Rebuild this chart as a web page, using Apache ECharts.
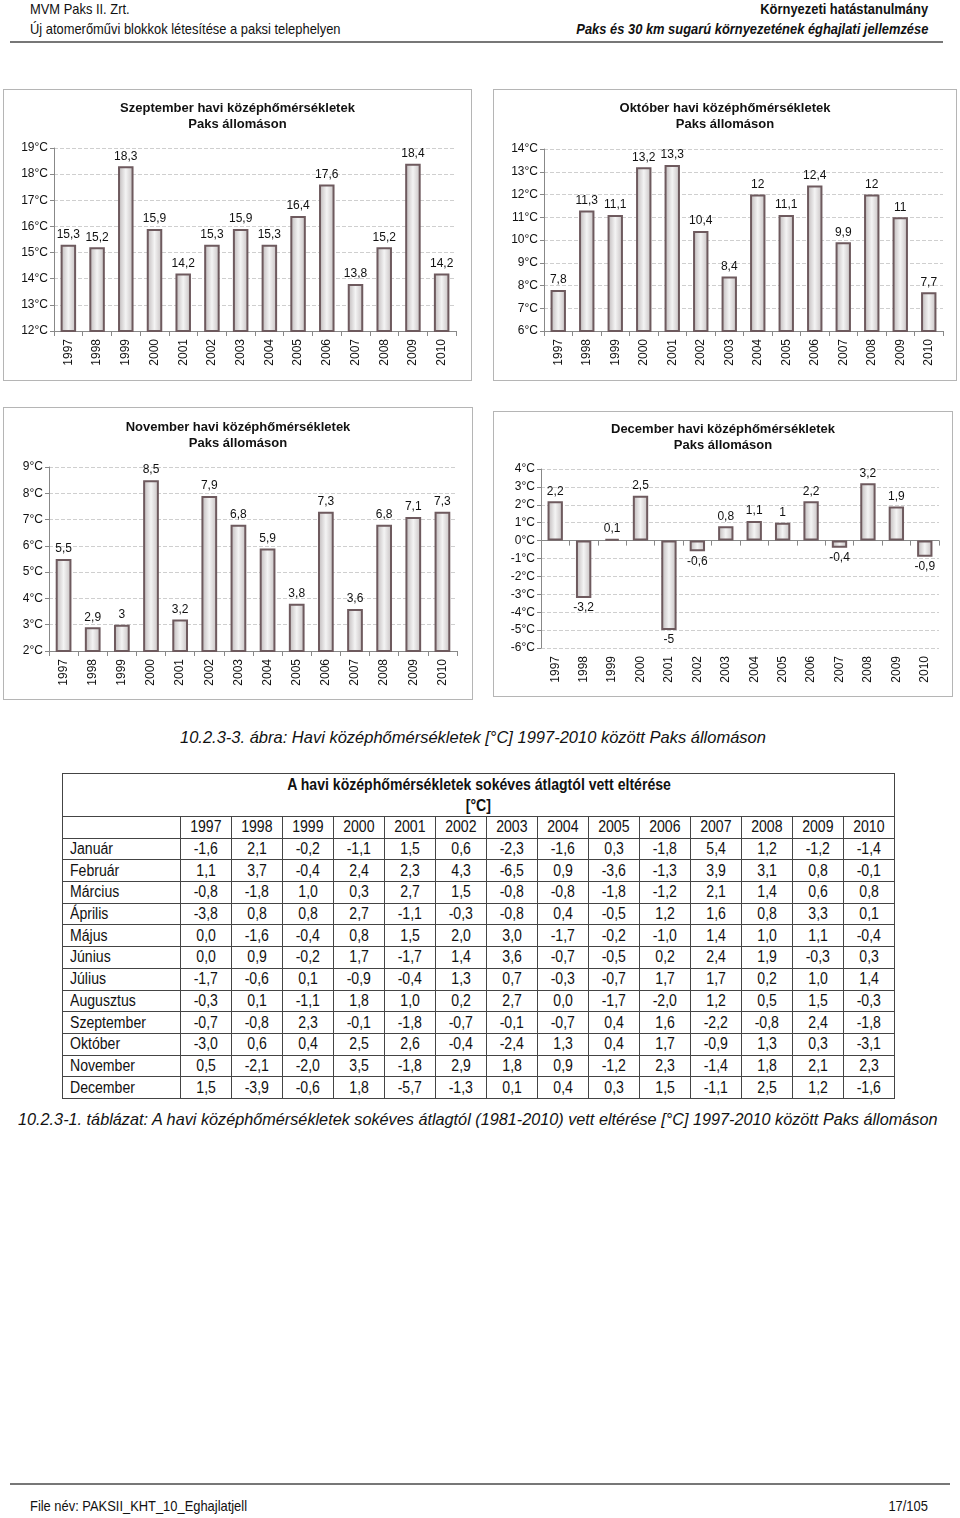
<!DOCTYPE html>
<html>
<head>
<meta charset="utf-8">
<script src="https://cdn.jsdelivr.net/npm/echarts@6/dist/echarts.min.js"></script>
<style>
  html, body { margin:0; padding:0; background:#fff; }
  body { width:960px; height:1518px; position:relative; overflow:hidden;
         font-family:"Liberation Sans",Arial,sans-serif; color:#111; }
  .abs { position:absolute; white-space:nowrap; }
  .nl { transform:scaleX(0.86); transform-origin:left center; }
  .nr { transform:scaleX(0.86); transform-origin:right center; }
  .chart { position:absolute; border:1px solid #b5b5b5; box-sizing:border-box; }
  table.dev { position:absolute; left:62px; top:773px; border-collapse:collapse; font-size:16px; table-layout:fixed; width:832px; }
  table.dev td { border:1.5px solid #444; text-align:center; padding:0; height:20.7px; line-height:20px; overflow:hidden; white-space:nowrap; }
  table.dev td span { display:inline-block; transform:scaleX(0.88); }
  table.dev td.m { text-align:left; padding-left:7px; }
  table.dev td.m span { transform-origin:left center; }
</style>
</head>
<body>
<div class="abs nl" style="left:30px;top:0px;font-size:15px;">MVM Paks II. Zrt.</div>
<div class="abs nl" style="left:30px;top:20px;font-size:15px;">Új atomerőművi blokkok létesítése a paksi telephelyen</div>
<div class="abs nr" style="right:32px;top:0px;font-size:15px;font-weight:bold;">Környezeti hatástanulmány</div>
<div class="abs nr" style="right:32px;top:20px;font-size:15px;font-weight:bold;font-style:italic;">Paks és 30 km sugarú környezetének éghajlati jellemzése</div>
<div class="abs" style="left:10px;top:41px;width:933px;height:2px;background:#777;"></div>

<div id="c1" class="chart" style="left:3px;top:89px;width:469px;height:292px;"></div>
<div id="c2" class="chart" style="left:493px;top:89px;width:464px;height:292px;"></div>
<div id="c3" class="chart" style="left:3px;top:407px;width:470px;height:293px;"></div>
<div id="c4" class="chart" style="left:493px;top:411px;width:460px;height:286px;"></div>

<div class="abs" style="left:180px;top:728px;font-size:17px;font-style:italic;transform:scaleX(0.97);transform-origin:left center;">10.2.3-3. ábra: Havi középhőmérsékletek [°C] 1997-2010 között Paks állomáson</div>

<table class="dev" id="devTable"></table>

<div class="abs" style="left:18px;top:1110px;font-size:17px;font-style:italic;transform:scaleX(0.955);transform-origin:left center;">10.2.3-1. táblázat: A havi középhőmérsékletek sokéves átlagtól (1981-2010) vett eltérése [°C] 1997-2010 között Paks állomáson</div>

<div class="abs" style="left:10px;top:1483px;width:940px;height:2px;background:#777;"></div>
<div class="abs nl" style="left:30px;top:1497px;font-size:15px;">File név: PAKSII_KHT_10_Eghajlatjell</div>
<div class="abs nr" style="right:32px;top:1497px;font-size:15px;">17/105</div>

<script>
// ---- Chart data ----
const years = ['1997','1998','1999','2000','2001','2002','2003','2004','2005','2006','2007','2008','2009','2010'];
const septemberTemps = [15.3, 15.2, 18.3, 15.9, 14.2, 15.3, 15.9, 15.3, 16.4, 17.6, 13.8, 15.2, 18.4, 14.2];
const oktoberTemps   = [7.8, 11.3, 11.1, 13.2, 13.3, 10.4, 8.4, 12, 11.1, 12.4, 9.9, 12, 11, 7.7];
const novemberTemps  = [5.5, 2.9, 3, 8.5, 3.2, 7.9, 6.8, 5.9, 3.8, 7.3, 3.6, 6.8, 7.1, 7.3];
const decemberTemps  = [2.2, -3.2, 0.1, 2.5, -5, -0.6, 0.8, 1.1, 1, 2.2, -0.4, 3.2, 1.9, -0.9];
const chartTitles = [
  'Szeptember havi középhőmérsékletek\nPaks állomáson',
  'Október havi középhőmérsékletek\nPaks állomáson',
  'November havi középhőmérsékletek\nPaks állomáson',
  'December havi középhőmérsékletek\nPaks állomáson'
];
// ---- Table data ----
const tableTitle = 'A havi középhőmérsékletek sokéves átlagtól vett eltérése';
const tableUnit = '[°C]';
const monthNames = ['Január','Február','Március','Április','Május','Június','Július','Augusztus','Szeptember','Október','November','December'];
const devJanuar     = ['-1,6','2,1','-0,2','-1,1','1,5','0,6','-2,3','-1,6','0,3','-1,8','5,4','1,2','-1,2','-1,4'];
const devFebruar    = ['1,1','3,7','-0,4','2,4','2,3','4,3','-6,5','0,9','-3,6','-1,3','3,9','3,1','0,8','-0,1'];
const devMarcius    = ['-0,8','-1,8','1,0','0,3','2,7','1,5','-0,8','-0,8','-1,8','-1,2','2,1','1,4','0,6','0,8'];
const devAprilis    = ['-3,8','0,8','0,8','2,7','-1,1','-0,3','-0,8','0,4','-0,5','1,2','1,6','0,8','3,3','0,1'];
const devMajus      = ['0,0','-1,6','-0,4','0,8','1,5','2,0','3,0','-1,7','-0,2','-1,0','1,4','1,0','1,1','-0,4'];
const devJunius     = ['0,0','0,9','-0,2','1,7','-1,7','1,4','3,6','-0,7','-0,5','0,2','2,4','1,9','-0,3','0,3'];
const devJulius     = ['-1,7','-0,6','0,1','-0,9','-0,4','1,3','0,7','-0,3','-0,7','1,7','1,7','0,2','1,0','1,4'];
const devAugusztus  = ['-0,3','0,1','-1,1','1,8','1,0','0,2','2,7','0,0','-1,7','-2,0','1,2','0,5','1,5','-0,3'];
const devSzeptember = ['-0,7','-0,8','2,3','-0,1','-1,8','-0,7','-0,1','-0,7','0,4','1,6','-2,2','-0,8','2,4','-1,8'];
const devOktober    = ['-3,0','0,6','0,4','2,5','2,6','-0,4','-2,4','1,3','0,4','1,7','-0,9','1,3','0,3','-3,1'];
const devNovember   = ['0,5','-2,1','-2,0','3,5','-1,8','2,9','1,8','0,9','-1,2','2,3','-1,4','1,8','2,1','2,3'];
const devDecember   = ['1,5','-3,9','-0,6','1,8','-5,7','-1,3','0,1','0,4','0,3','1,5','-1,1','2,5','1,2','-1,6'];

const FONT = '"Liberation Sans",Arial,sans-serif';
const fmt = v => String(v).replace('.', ',');

function barChart(id, title, values, yMin, yMax, grid, titleTop, hasNeg) {
  const ch = echarts.init(document.getElementById(id));
  const data = values.map(v => ({ value: v, label: { position: v < 0 ? 'bottom' : 'top' } }));
  const xAxes = [{
    type: 'category', data: years, boundaryGap: true,
    axisLine: { show: !hasNeg, onZero: false, lineStyle: { color: '#888' } },
    axisTick: { show: !hasNeg, interval: 0, length: 5, lineStyle: { color: '#888' } },
    axisLabel: { rotate: 90, interval: 0, color: '#111', fontSize: 12, fontFamily: FONT, margin: 8 }
  }];
  if (hasNeg) {
    xAxes.push({
      type: 'category', data: years, boundaryGap: true, position: 'bottom',
      axisLine: { show: true, onZero: true, lineStyle: { color: '#888' } },
      axisTick: { show: true, interval: 0, length: 5, lineStyle: { color: '#888' } },
      axisLabel: { show: false }
    });
  }
  ch.setOption({
    animation: false,
    title: {
      text: title, left: 'center', top: titleTop,
      textStyle: { fontSize: 13, fontWeight: 'bold', fontFamily: FONT, color: '#111', lineHeight: 16 }
    },
    grid: grid,
    xAxis: xAxes,
    yAxis: {
      type: 'value', min: yMin, max: yMax, interval: 1,
      axisLine: { show: true, lineStyle: { color: '#888' } },
      axisTick: { show: true, length: 4, lineStyle: { color: '#888' } },
      splitLine: { show: true, lineStyle: { color: '#cfcfcf', type: 'dashed' } },
      axisLabel: { formatter: v => v + '°C', color: '#111', fontSize: 12, fontFamily: FONT, margin: 6 }
    },
    series: [{
      type: 'bar', data: data, barWidth: '54%', xAxisIndex: 0,
      itemStyle: {
        color: new echarts.graphic.LinearGradient(0, 0, 1, 0, [
          { offset: 0, color: '#bcb6b7' },
          { offset: 0.5, color: '#f4f4f4' },
          { offset: 1, color: '#c4bebf' }
        ]),
        borderColor: '#6e5a5e', borderWidth: 2
      },
      label: { show: true, formatter: p => fmt(p.value), color: '#111', fontSize: 12, fontFamily: FONT, distance: 4 }
    }]
  });
}

barChart('c1', chartTitles[0], septemberTemps, 12, 19, { left: 50, right: 15, top: 58, bottom: 49 }, 5, false);
barChart('c2', chartTitles[1], oktoberTemps, 6, 14, { left: 50, right: 13, top: 59, bottom: 49 }, 5, false);
barChart('c3', chartTitles[2], novemberTemps, 2, 9, { left: 45, right: 15, top: 59, bottom: 48 }, 6, false);
barChart('c4', chartTitles[3], decemberTemps, -6, 4, { left: 47, right: 13, top: 57, bottom: 48 }, 4, true);

// ---- Table ----
const devRows = [devJanuar, devFebruar, devMarcius, devAprilis, devMajus, devJunius, devJulius, devAugusztus, devSzeptember, devOktober, devNovember, devDecember];
const tbl = document.getElementById('devTable');
const sp = t => '<span>' + t + '</span>';
let html = '<colgroup><col style="width:118px">' + years.map(() => '<col style="width:51px">').join('') + '</colgroup>';
html += '<tr><td colspan="15" style="height:42px;line-height:21px;font-weight:bold;">' + sp(tableTitle) + '<br>' + sp(tableUnit) + '</td></tr>';
html += '<tr><td></td>' + years.map(y => '<td>' + sp(y) + '</td>').join('') + '</tr>';
devRows.forEach((row, i) => {
  html += '<tr><td class="m">' + sp(monthNames[i]) + '</td>' + row.map(v => '<td>' + sp(v) + '</td>').join('') + '</tr>';
});
tbl.innerHTML = html;
</script>
</body>
</html>
